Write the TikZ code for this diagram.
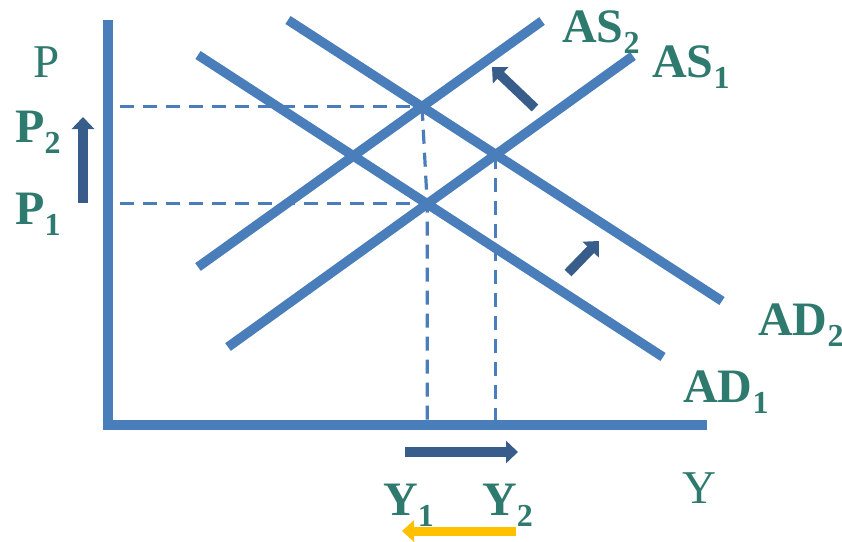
\documentclass[tikz,border=0pt]{standalone}
\usepackage{fontspec}
\setmainfont{Liberation Serif}
\usetikzlibrary{arrows.meta,intersections}
\definecolor{curveblue}{RGB}{74,126,187}
\definecolor{arrowblue}{RGB}{56,93,138}
\definecolor{labelteal}{RGB}{46,122,110}
\definecolor{shiftgold}{RGB}{255,192,0}
\newcommand{\sublabel}[2]{\textbf{\fontsize{48}{48}\selectfont #1\raisebox{-11pt}{\fontsize{32}{32}\selectfont #2}}}
\begin{document}
\begin{tikzpicture}[x=1pt,y=-1pt,
  curve/.style={draw=curveblue,line width=9.5pt},
  axisline/.style={draw=curveblue,line width=9.5pt},
  guide/.style={draw=curveblue,line width=3.2pt,dash pattern=on 14pt off 9pt},
  shiftarrow/.style={draw=arrowblue,line width=9.5pt,-{Triangle[width=22pt,length=12pt]}},
  goldarrow/.style={draw=shiftgold,line width=9pt,-{Triangle[width=21pt,length=12pt]}},
  lab/.style={text=labelteal,inner sep=0pt,anchor=base west},
  plainlab/.style={text=labelteal,inner sep=0pt,anchor=base west,font=\fontsize{47}{47}\selectfont}]
\useasboundingbox (0,0) rectangle (842,541);
% axes
\coordinate (ytop) at (108,20);
\coordinate (origin) at (108,425);
\coordinate (xend) at (707,425);
\draw[axisline] (ytop) -- (108,429.75);
\draw[axisline] (103.25,425) -- (xend);
% curve endpoints
\coordinate (as1a) at (228,347); \coordinate (as1b) at (633,56);
\coordinate (as2a) at (198,267); \coordinate (as2b) at (542,21);
\coordinate (ad1a) at (198,55);  \coordinate (ad1b) at (663,357);
\coordinate (ad2a) at (288,20);  \coordinate (ad2b) at (722,301);
\path[name path=as1] (as1a) -- (as1b);
\path[name path=as2] (as2a) -- (as2b);
\path[name path=ad1] (ad1a) -- (ad1b);
\path[name path=ad2] (ad2a) -- (ad2b);
\path[name intersections={of=as2 and ad2,by=E2}];
\path[name intersections={of=as1 and ad1,by=E1}];
\path[name intersections={of=as1 and ad2,by=E3}];
% guides
\draw[guide] (E2 -| 120,0) -- (E2);
\draw[guide] (E1 -| 120,0) -- (E1);
\draw[guide] (E2) -- (E1) -- (E1 |- origin);
\draw[guide] (E3) -- (E3 |- origin);
% curves
\draw[curve] (as1a) -- (as1b);
\draw[curve] (as2a) -- (as2b);
\draw[curve] (ad1a) -- (ad1b);
\draw[curve] (ad2a) -- (ad2b);
% shift arrows
\coordinate (pup0) at (83,203); \coordinate (pup1) at (83,117);
\draw[shiftarrow] (pup0) -- (pup1);
\coordinate (yr0) at (405,452); \coordinate (yr1) at (518,452);
\draw[shiftarrow] (yr0) -- (yr1);
\coordinate (as0) at (535,108); \coordinate (as1t) at (492,67);
\draw[shiftarrow] (as0) -- (as1t);
\coordinate (ad0) at (568,273); \coordinate (ad1t) at (599,241);
\draw[shiftarrow] (ad0) -- (ad1t);
\coordinate (yl0) at (516,531); \coordinate (yl1) at (402,531);
\draw[goldarrow] (yl0) -- (yl1);
% labels
\node[plainlab] (Plab) at (33,77) {P};
\node[lab] (P2lab) at (15,142) {\sublabel{P}{2}};
\node[lab] (P1lab) at (15,224) {\sublabel{P}{1}};
\node[lab] (AS2lab) at (562,42) {\sublabel{AS}{2}};
\node[lab] (AS1lab) at (652,77) {\sublabel{AS}{1}};
\node[lab] (AD2lab) at (758,335) {\sublabel{AD}{2}};
\node[lab] (AD1lab) at (683,402) {\sublabel{AD}{1}};
\node[plainlab] (Ylab) at (682,503) {Y};
\node[lab] (Y1lab) at (383,515) {\sublabel{Y}{1}};
\node[lab] (Y2lab) at (482,515) {\sublabel{Y}{2}};
\end{tikzpicture}
\end{document}
